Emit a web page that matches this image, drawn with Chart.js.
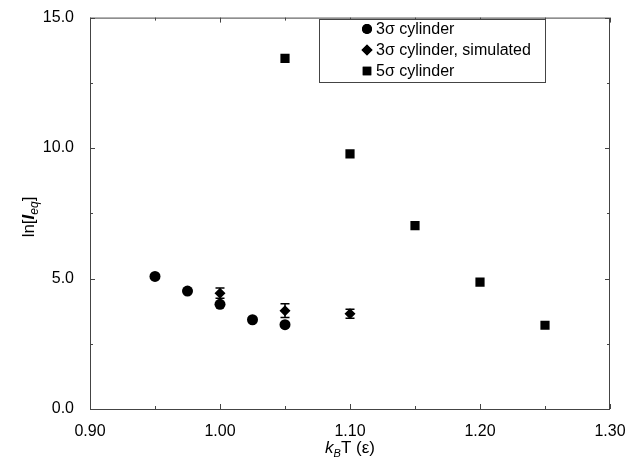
<!DOCTYPE html>
<html>
<head>
<meta charset="utf-8">
<script src="https://cdn.jsdelivr.net/npm/chart.js@4.4.0/dist/chart.umd.min.js"></script>
<style>
  html, body { margin: 0; padding: 0; background: #fff; }
  #wrap { width: 637px; height: 461px; }
</style>
</head>
<body>
<div id="wrap"><canvas id="chart" width="637" height="461"></canvas></div>
<script>
// data
const circleT = [0.95, 0.975, 1.00, 1.025, 1.05];
const circleLn = [5.08, 4.52, 4.01, 3.42, 3.23];

const simT = [1.00, 1.05, 1.10];
const simLn = [4.44, 3.77, 3.65];
const simErr = [0.2, 0.26, 0.17];

const squareT = [1.05, 1.10, 1.15, 1.20, 1.25];
const squareLn = [13.44, 9.78, 7.03, 4.86, 3.21];

const xTicks = [0.90, 1.00, 1.10, 1.20, 1.30];
const yTicks = [0.0, 5.0, 10.0, 15.0];

const labels = ["3\u03c3 cylinder", "3\u03c3 cylinder, simulated", "5\u03c3 cylinder"];

const FONT = "'Liberation Sans', Arial, sans-serif";
const INK = "#000";
const AXIS = "#444";

const toPts = (xs, ys) => xs.map((x, i) => ({ x: x, y: ys[i] }));

// error bars for the simulated set
const errorBars = {
  id: "errorBars",
  afterDatasetsDraw(chart) {
    const { ctx, scales: { x, y } } = chart;
    ctx.save();
    ctx.strokeStyle = INK;
    ctx.lineWidth = 1.5;
    simT.forEach((t, i) => {
      const px = x.getPixelForValue(t);
      const top = y.getPixelForValue(simLn[i] + simErr[i]);
      const bot = y.getPixelForValue(simLn[i] - simErr[i]);
      ctx.beginPath();
      ctx.moveTo(px, top); ctx.lineTo(px, bot);
      ctx.moveTo(px - 4.5, top); ctx.lineTo(px + 4.5, top);
      ctx.moveTo(px - 4.5, bot); ctx.lineTo(px + 4.5, bot);
      ctx.stroke();
    });
    ctx.restore();
  }
};

// frame, inward ticks, axis titles and boxed legend
const decor = {
  id: "decor",
  afterDraw(chart) {
    const { ctx, chartArea: a, scales: { x, y } } = chart;
    ctx.save();
    ctx.strokeStyle = AXIS;
    ctx.lineWidth = 1;
    ctx.strokeRect(a.left + 0.5, a.top + 0.5, a.right - a.left - 1, a.bottom - a.top);

    // major + minor ticks pointing inside
    ctx.beginPath();
    for (let i = 0; i < xTicks.length; i++) {
      const px = Math.round(x.getPixelForValue(xTicks[i])) + 0.5;
      ctx.moveTo(px, a.bottom); ctx.lineTo(px, a.bottom - 5);
      ctx.moveTo(px, a.top); ctx.lineTo(px, a.top + 5);
      if (i < xTicks.length - 1) {
        const pm = Math.round(x.getPixelForValue((xTicks[i] + xTicks[i + 1]) / 2)) + 0.5;
        ctx.moveTo(pm, a.bottom); ctx.lineTo(pm, a.bottom - 3);
        ctx.moveTo(pm, a.top); ctx.lineTo(pm, a.top + 3);
      }
    }
    for (let i = 0; i < yTicks.length; i++) {
      const py = Math.round(y.getPixelForValue(yTicks[i])) + 0.5;
      ctx.moveTo(a.left, py); ctx.lineTo(a.left + 5, py);
      ctx.moveTo(a.right, py); ctx.lineTo(a.right - 5, py);
      if (i < yTicks.length - 1) {
        const pm = Math.round(y.getPixelForValue((yTicks[i] + yTicks[i + 1]) / 2)) + 0.5;
        ctx.moveTo(a.left, pm); ctx.lineTo(a.left + 3, pm);
        ctx.moveTo(a.right, pm); ctx.lineTo(a.right - 3, pm);
      }
    }
    ctx.stroke();

    ctx.fillStyle = INK;
    ctx.textBaseline = "alphabetic";

    // x title: k_B T (ε)
    const xt = [
      { t: "k", f: "italic 17px " + FONT, dy: 0 },
      { t: "B", f: "italic 11px " + FONT, dy: 4 },
      { t: "T (\u03b5)", f: "17px " + FONT, dy: 0 }
    ];
    let w = 0;
    xt.forEach(p => { ctx.font = p.f; w += ctx.measureText(p.t).width; });
    let cx = (a.left + a.right) / 2 - w / 2;
    ctx.textAlign = "left";
    xt.forEach(p => {
      ctx.font = p.f;
      ctx.fillText(p.t, cx, 453 + p.dy);
      cx += ctx.measureText(p.t).width;
    });

    // y title: ln[I_eq]
    const yt = [
      { t: "ln[", f: "17px " + FONT, dy: 0 },
      { t: "I", f: "italic bold 17px " + FONT, dy: 0 },
      { t: "eq", f: "italic 12px " + FONT, dy: 4 },
      { t: "]", f: "17px " + FONT, dy: 0 }
    ];
    w = 0;
    yt.forEach(p => { ctx.font = p.f; w += ctx.measureText(p.t).width; });
    ctx.save();
    ctx.translate(28, 217);
    ctx.rotate(-Math.PI / 2);
    cx = -w / 2;
    yt.forEach(p => {
      ctx.font = p.f;
      ctx.fillText(p.t, cx, 6 + p.dy);
      cx += ctx.measureText(p.t).width;
    });
    ctx.restore();

    // legend box
    const lx = 319, ly = 19, lw = 226, lh = 63;
    ctx.fillStyle = "#fff";
    ctx.fillRect(lx, ly, lw, lh);
    ctx.strokeStyle = AXIS;
    ctx.strokeRect(lx + 0.5, ly + 0.5, lw, lh);
    ctx.font = "16px " + FONT;
    ctx.textBaseline = "middle";
    ctx.fillStyle = INK;
    chart.data.datasets.forEach((ds, i) => {
      const my = ly + 10 + i * 21;
      Chart.helpers.drawPoint(ctx, {
        pointStyle: ds.pointStyle,
        radius: ds.pointStyle === "rect" ? 6 : (ds.pointStyle === "rectRot" ? 5.5 : 5),
        borderWidth: 0
      }, 367, my);
      ctx.fillStyle = INK;
      ctx.fill();
      ctx.fillText(ds.label, 376, my + 1);
    });
    ctx.restore();
  }
};

new Chart(document.getElementById("chart"), {
  type: "scatter",
  data: {
    datasets: [
      {
        label: labels[0],
        data: toPts(circleT, circleLn),
        pointStyle: "circle",
        pointRadius: 5.5,
        backgroundColor: INK,
        borderColor: INK,
        borderWidth: 0
      },
      {
        label: labels[1],
        data: toPts(simT, simLn),
        pointStyle: "rectRot",
        pointRadius: 5.5,
        backgroundColor: INK,
        borderColor: INK,
        borderWidth: 0
      },
      {
        label: labels[2],
        data: toPts(squareT, squareLn),
        pointStyle: "rect",
        pointRadius: 6.5,
        backgroundColor: INK,
        borderColor: INK,
        borderWidth: 0
      }
    ]
  },
  options: {
    responsive: false,
    animation: false,
    layout: { padding: { left: 0, right: 27, top: 16, bottom: 0 } },
    plugins: {
      legend: { display: false },
      tooltip: { enabled: false }
    },
    scales: {
      x: {
        type: "linear",
        min: 0.9,
        max: 1.3,
        afterBuildTicks: (s) => { s.ticks = xTicks.map(v => ({ value: v })); },
        afterFit: (s) => { s.height = 52; },
        grid: { display: false },
        border: { display: false },
        ticks: {
          autoSkip: false,
          maxRotation: 0,
          padding: 5,
          color: INK,
          font: { family: FONT, size: 16 },
          callback: (v) => Number(v).toFixed(2)
        }
      },
      y: {
        type: "linear",
        min: 0,
        max: 15,
        afterBuildTicks: (s) => { s.ticks = yTicks.map(v => ({ value: v })); },
        afterFit: (s) => { s.width = 90; },
        grid: { display: false },
        border: { display: false },
        ticks: {
          padding: 8,
          color: INK,
          font: { family: FONT, size: 16 },
          callback: (v) => Number(v).toFixed(1)
        }
      }
    }
  },
  plugins: [errorBars, decor]
});
</script>
</body>
</html>
